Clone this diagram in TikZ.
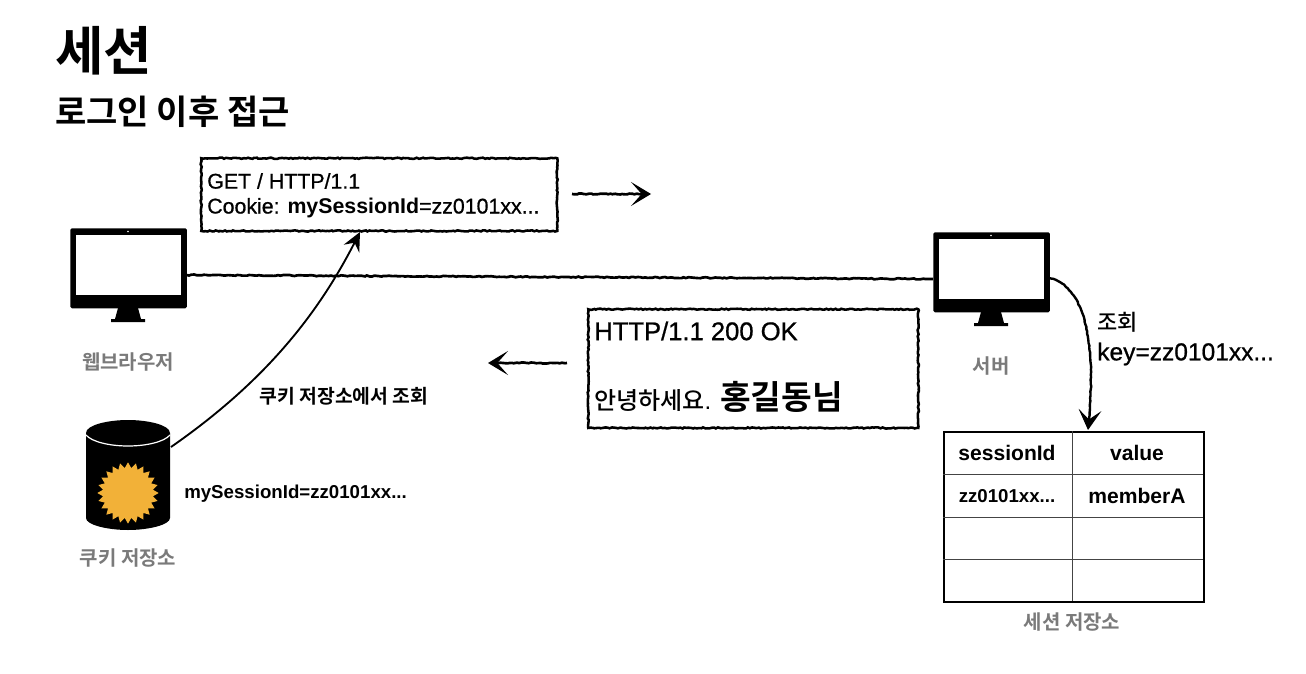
\documentclass[tikz,border=0pt]{standalone}
\usepackage{fontspec}
\setmainfont{Liberation Sans}
\newfontfamily\medium[FakeBold=0.8]{Liberation Sans}
\newfontfamily\kr[BoldFont={Noto Sans CJK KR Bold}]{Noto Sans CJK KR}
\newfontfamily\krm{Noto Sans CJK KR Medium}
\usetikzlibrary{arrows.meta,decorations.pathmorphing,shapes.geometric}
\definecolor{glabel}{HTML}{7A7A7A}
\definecolor{starc}{HTML}{F2B138}
\definecolor{cellc}{HTML}{444444}
\tikzset{
  x=0.75pt,y=-0.75pt,
  rough/.style={decorate,decoration={random steps,segment length=1.6pt,amplitude=0.45pt}},
  sketchbox/.style={draw=black,line width=1.9pt,rough,inner sep=0pt,anchor=north west},
  roughline/.style={black,line width=2pt,decorate,decoration={random steps,segment length=1.8pt,amplitude=0.4pt,post length=6pt}},
  tip/.style={-{Stealth[length=15pt,width=18pt,inset=8pt]}},
  thinarrow/.style={black,line width=1.4pt,-{Stealth[length=14pt,width=13pt,inset=5pt]}},
  txt/.style={inner sep=0pt,anchor=west,text=black},
  ctext/.style={inner sep=0pt,anchor=center,text=black},
  graylabel/.style={inner sep=0pt,anchor=center,text=glabel,font=\kr\bfseries\fontsize{15pt}{18pt}\selectfont},
  monitorbody/.style={fill=black,rounded corners=1.2pt,inner sep=0pt,minimum width=87.5pt,minimum height=60pt,anchor=north west},
  monitorscreen/.style={fill=white,inner sep=0pt,minimum width=78.5pt,minimum height=44.5pt,anchor=north west},
  cellline/.style={cellc,line width=0.5pt},
  tableframe/.style={draw=black,line width=1.5pt,inner sep=0pt,minimum width=195pt,minimum height=127.5pt,anchor=north west},
  celltext/.style={ctext,font=\bfseries\fontsize{15.8pt}{18pt}\selectfont},
}
\newcommand{\monitorat}[3]{%
  \node[monitorbody] (#1) at (#2,#3) {};
  \node[monitorscreen] (#1screen) at (#2+6,#3+7) {};
  \fill[white] (#2+58,#3+3.5) circle (0.9);
  \fill[black] (#2+48,#3+80) -- (#2+68,#3+80) -- (#2+71,#3+91) -- (#2+75,#3+91) -- (#2+75,#3+94) -- (#2+41,#3+94) -- (#2+41,#3+91) -- (#2+45,#3+91) -- cycle;
}
\begin{document}
\begin{tikzpicture}
\useasboundingbox (0,0) rectangle (1306,674);
% titles
\node[txt,font=\kr\bfseries\fontsize{39.5pt}{44pt}\selectfont] (title) at (55,51) {세션};
\node[txt,font=\kr\bfseries\fontsize{25.5pt}{29pt}\selectfont] (sub) at (55,112) {로그인 이후 접근};
% monitors
\monitorat{browser}{70}{228}
\monitorat{server}{933}{232}
\node[graylabel] (browserlabel) at (128,362) {웹브라우저};
\node[graylabel] (serverlabel) at (991,366) {서버};
% request box
\node[sketchbox,minimum width=267pt,minimum height=54.5pt] (req) at (200,157) {};
\node[txt,font=\medium\fontsize{16pt}{19pt}\selectfont] (req1) at (207,181) {GET / HTTP/1.1};
\node[txt,font=\medium\fontsize{16pt}{19pt}\selectfont] (req2) at (207,208) {Cookie: {\normalfont\bfseries\fontsize{16pt}{19pt}\selectfont mySessionId}=zz0101xx...};
% response box
\node[sketchbox,minimum width=247.5pt,minimum height=89pt] (res) at (587,308) {};
\node[txt,font=\medium\fontsize{19.2pt}{22pt}\selectfont] (res1) at (594,331) {HTTP/1.1 200 OK};
\node[txt,font=\fontsize{18pt}{22pt}\selectfont] (res2) at (594,397) {{\krm 안녕하세요}. {\kr\bfseries\fontsize{25pt}{28pt}\selectfont 홍길동님}};
% arrows
\coordinate (reqA) at (572,194);
\coordinate (reqB) at (651,194);
\coordinate (resA) at (567,363);
\coordinate (resB) at (488,363);
\coordinate (lineA) at (187,275);
\coordinate (lineB) at (933,279);
\draw[roughline] (lineA) -- (lineB);
\draw[roughline,tip] (reqA) -- (reqB);
\draw[roughline,tip] (resA) -- (resB);
% cookie store
\fill[black] (86,433) .. controls (86,425) and (108,420) .. (128,420) .. controls (148,420) and (170,425) .. (170,433) -- (170,518) .. controls (170,525) and (148,530) .. (128,530) .. controls (108,530) and (86,525) .. (86,518) -- cycle;
\draw[white,line width=0.9pt] (86,435) .. controls (92,442) and (110,446) .. (128,446) .. controls (146,446) and (164,442) .. (170,435);
\node[star,star points=24,star point ratio=1.22,fill=starc,inner sep=0pt,minimum size=46pt] (cookie) at (128,493) {};
\coordinate (cookieOut) at (171,447);
\node[graylabel] (cookielabel) at (128,558) {쿠키 저장소};
\node[txt,font=\bfseries\fontsize{14pt}{17pt}\selectfont] (cookieval) at (184,494) {mySessionId=zz0101xx...};
\node[ctext,font=\kr\bfseries\fontsize{14.5pt}{17pt}\selectfont] (lookup) at (344,396) {쿠키 저장소에서 조회};
\coordinate (reqIn) at (360,232);
\draw[thinarrow] (cookieOut) .. controls (260,385) and (315,320) .. (reqIn);
% session table
\node[tableframe] (table) at (942.5,430.5) {};
\coordinate (colT) at (1072,431);
\coordinate (colB) at (1072,601);
\draw[cellline] (colT) -- (colB);
\coordinate (r1a) at (943,474); \coordinate (r1b) at (1203,474);
\coordinate (r2a) at (943,517); \coordinate (r2b) at (1203,517);
\coordinate (r3a) at (943,559); \coordinate (r3b) at (1203,559);
\draw[cellline] (r1a) -- (r1b);
\draw[cellline] (r2a) -- (r2b);
\draw[cellline] (r3a) -- (r3b);
\node[celltext] (h1) at (1007,453) {sessionId};
\node[celltext] (h2) at (1137,453) {value};
\node[celltext,font=\bfseries\fontsize{14pt}{17pt}\selectfont] (c1) at (1007,496) {zz0101xx...};
\node[celltext] (c2) at (1137,496) {memberA};
\node[graylabel] (tablelabel) at (1072,622) {세션 저장소};
% server lookup
\coordinate (srvOut) at (1049,278);
\coordinate (tabIn) at (1088,430);
\draw[black,line width=1.8pt,-{Stealth[length=15pt,width=17pt,inset=7pt]},decorate,decoration={random steps,segment length=1.8pt,amplitude=0.3pt,post length=6pt}] (srvOut) .. controls (1082,285) and (1098,335) .. (tabIn);
\node[txt,font=\krm\fontsize{16.5pt}{20pt}\selectfont] (q1) at (1097,322) {조회};
\node[txt,font=\medium\fontsize{18.4pt}{22pt}\selectfont] (q2) at (1097,354) {key=zz0101xx...};
\end{tikzpicture}
\end{document}
